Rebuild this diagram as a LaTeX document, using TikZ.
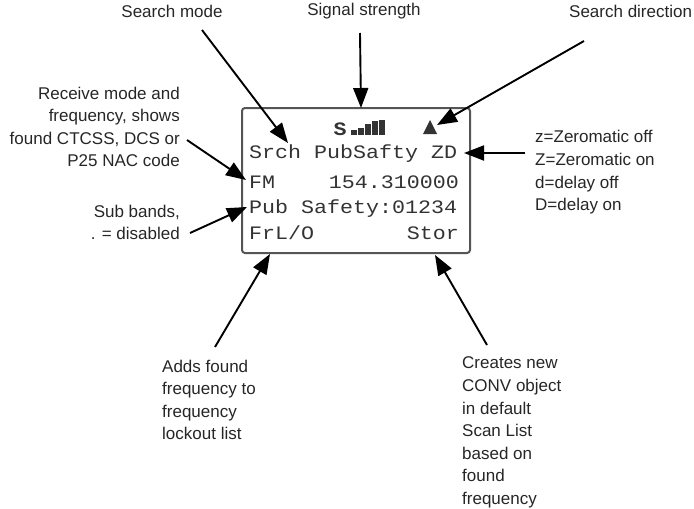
\documentclass[tikz,border=0pt]{standalone}
\usepackage{fontspec}
\setmainfont{Liberation Sans}
\newfontfamily\lcdfont[FakeStretch=1.14]{Liberation Mono}
\usepackage{tikz}
\usetikzlibrary{arrows.meta}
\definecolor{lcdgray}{HTML}{333333}
\definecolor{labelgray}{HTML}{262626}
\definecolor{framegray}{HTML}{555555}

\begin{document}
\begin{tikzpicture}[x=1pt, y=-1pt,
    lbl/.style={inner sep=0, text=labelgray, font=\fontsize{17}{22.6}\selectfont},
    lcdtxt/.style={inner sep=0, text=lcdgray, font=\lcdfont\fontsize{19}{19}\selectfont},
    arr/.style={-{Triangle[length=20pt, width=15pt]}, line width=1.9pt, black}]
    \useasboundingbox (0,0) rectangle (694,509);
    \coordinate (TL) at (242,108);
    \coordinate (BR) at (470,253);
    \draw[framegray, line width=2pt, rounded corners=3pt] (TL) rectangle (BR);
    \node[lbl] (mode) at (172,11) {Search mode};
    \node[lbl] (signal) at (364,11) {Signal strength};
    \node[lbl, anchor=west] (direction) at (569,11) {Search direction};
    \node[lbl, anchor=east, align=right] (receive) at (180,127) {Receive mode and\\frequency, shows\\found CTCSS, DCS or\\P25 NAC code};
    \node[lbl, anchor=east, align=right] (bands) at (180,222.5) {Sub bands,\\. = disabled};
    \node[lbl, anchor=west, align=left] (zero) at (535,172.5) {z=Zeromatic off\\Z=Zeromatic on\\d=delay off\\D=delay on};
    \node[lbl, anchor=west, align=left] (adds) at (162,400) {Adds found\\frequency to\\frequency\\lockout list};
    \node[lbl, anchor=west, align=left] (creates) at (462,432.5) {Creates new\\CONV object\\in default\\Scan List\\based on\\found\\frequency};
    \node[lcdtxt, anchor=base, font=\lcdfont\bfseries\fontsize{19}{19}\selectfont] (S) at (340,135) {S};
    \foreach \i/\h in {0/5, 1/7, 2/11, 3/14, 4/15}
        \fill[lcdgray] (351+7*\i,135) rectangle ++(5.5,-\h);
    \coordinate (tri) at (430,120);
    \fill[lcdgray] (tri) -- (437,134) -- (423,134) -- cycle;
    \node[lcdtxt, anchor=base west] (row1) at (249,158) {Srch PubSafty ZD};
    \node[lcdtxt, anchor=base west] (fm) at (249,188) {FM};
    \node[lcdtxt, anchor=base east] (freq) at (459,188) {154.310000};
    \node[lcdtxt, anchor=base west] (row3) at (249,213) {Pub Safety:01234};
    \node[lcdtxt, anchor=base west] (frlo) at (249,239) {FrL/O};
    \node[lcdtxt, anchor=base east] (stor) at (459,239) {Stor};
    \coordinate (modeA) at (202,30);
    \coordinate (modeB) at (288,143);
    \coordinate (sigA) at (360,33);
    \coordinate (sigB) at (361,108);
    \coordinate (dirA) at (584,41);
    \coordinate (dirB) at (437,125);
    \coordinate (recA) at (187,140);
    \coordinate (recB) at (246,180);
    \coordinate (bandA) at (190,233);
    \coordinate (bandB) at (247,207);
    \coordinate (zeroA) at (525,153);
    \coordinate (zeroB) at (464,153);
    \coordinate (addsA) at (215,347);
    \coordinate (addsB) at (270,254);
    \coordinate (creA) at (487,345);
    \coordinate (creB) at (435,255);
    \draw[arr] (modeA) -- (modeB);
    \draw[arr] (sigA) -- (sigB);
    \draw[arr] (dirA) -- (dirB);
    \draw[arr] (recA) -- (recB);
    \draw[arr] (bandA) -- (bandB);
    \draw[arr] (zeroA) -- (zeroB);
    \draw[arr] (addsA) -- (addsB);
    \draw[arr] (creA) -- (creB);
\end{tikzpicture}
\end{document}
